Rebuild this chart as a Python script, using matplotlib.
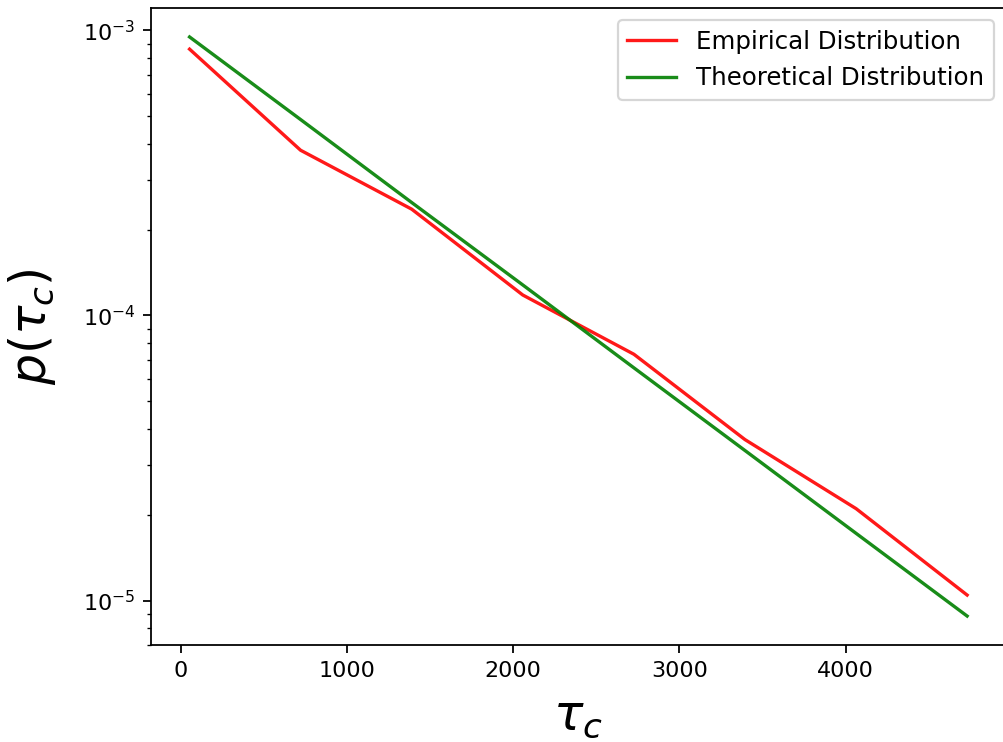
import matplotlib
matplotlib.use('Agg')
import matplotlib.pyplot as plt

# bin centres of the collision-time histogram
tau = [52, 720, 1389, 2057, 2726, 3394, 4063, 4731]
# empirical density
p_emp = [8.6e-4, 3.80e-4, 2.36e-4, 1.18e-4, 7.31e-5, 3.67e-5, 2.10e-5, 1.045e-5]
# theoretical density at the same points
p_theo = [9.49e-4, 4.87e-4, 2.49e-4, 1.28e-4, 6.55e-5, 3.36e-5, 1.72e-5, 8.82e-6]

fig = plt.figure(figsize=(1003/160, 742/160), dpi=160)
ax = fig.add_axes([150.7/1003, 97/742, (1006-150.7)/1003, (645-8)/742])

ax.plot(tau, p_emp, color='red', alpha=0.9, label='Empirical Distribution')
ax.plot(tau, p_theo, color='green', alpha=0.9, label='Theoretical Distribution')
ax.set_yscale('log')
ax.set_xlabel(r'$\tau_c$', fontsize=22, labelpad=5)
ax.set_ylabel(r'$p(\tau_c)$', fontsize=22, labelpad=11)
ax.legend(loc='upper right', fontsize=11)

fig.savefig('out.png', dpi=160)
